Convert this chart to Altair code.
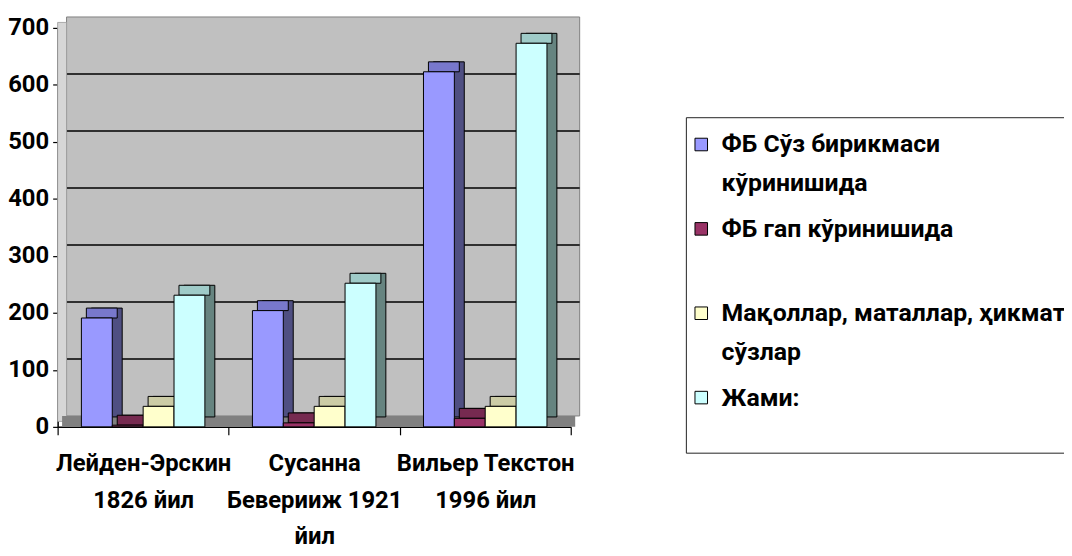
import altair as alt
import pandas as pd

categories = ["Лейден-Эрскин\n1826 йил", "Сусанна\nБеверииж 1921\nйил", "Вильер Текстон\n1996 йил"]
series = ["ФБ Сўз бирикмаси\nкўринишида", "ФБ гап кўринишида\n ",
          "Мақоллар, маталлар, ҳикматли\nсўзлар", "Жами:\n "]
s1 = [191, 204, 623]
s2 = [3, 7, 15]
s3 = [36, 36, 36]
s4 = [231, 252, 673]
y_ticks = [0, 100, 200, 300, 400, 500, 600, 700]
grid_values = [100, 200, 300, 400, 500, 600]

front_colors = ["#9999ff", "#993366", "#ffffcc", "#ccffff"]
side_colors = ["#4f4f82", "#5a1f3d", "#8a8a6e", "#668480"]
top_colors = ["#7878cc", "#762a50", "#cccca6", "#9fcbc8"]

FONT = "Roboto, 'Noto Sans', sans-serif"

rows = []
for vals, s in zip([s1, s2, s3, s4], series):
    for c, v in zip(categories, vals):
        rows.append({"cat": c, "series": s, "value": v})
df = pd.DataFrame(rows)

W, H = 517, 402
BAND = W / 3
DX, DY = 10, 10      # bar depth
WX, WY = 9, 11       # wall depth
PADO = 0.77

yscale = alt.Scale(domain=[0, 700], nice=False, zero=True)
yaxis = alt.Axis(title=None, values=y_ticks, grid=False, labelFont=FONT, labelFontSize=24,
                 labelFontWeight="bold", labelColor="black", labelPadding=4, tickSize=5,
                 tickColor="black", tickWidth=1.2, domainColor="black", domainWidth=1.5,
                 labelFlush=False, labelOverlap=False)
Y = alt.Y("value:Q", scale=yscale, axis=yaxis)

xaxis = alt.Axis(title=None, labelExpr="split(datum.label, '\\n')", labelAngle=0, labelFont=FONT,
                 labelFontSize=24, labelFontWeight="bold", labelColor="black", labelLineHeight=37,
                 labelPadding=17, tickBand="extent", tickSize=8, tickColor="black", tickWidth=1.2,
                 domainColor="black", domainWidth=1.5, labelLimit=400)
X = alt.X("cat:N", sort=categories, scale=alt.Scale(paddingInner=0, paddingOuter=0), axis=xaxis)


def xo(shift):
    if shift == 0:
        sc = alt.Scale(paddingInner=0, paddingOuter=PADO)
    else:
        sc = alt.Scale(domain=series, range=[shift, BAND + shift], paddingInner=0, paddingOuter=PADO)
    return alt.XOffset("series:N", sort=series, scale=sc)


wall_df = pd.DataFrame({"value": [700], "base": [0]})
grid_df = pd.DataFrame({"value": grid_values})
floor_df = pd.DataFrame({"value": [0]})

back_wall = alt.Chart(wall_df).mark_rect(
    color="#c0c0c0", stroke="#808080", strokeWidth=1,
    xOffset=WX, x2Offset=WX, yOffset=-WY, y2Offset=-WY
).encode(x=alt.value(0), x2=alt.value("width"), y=Y, y2=alt.Y2("base"))

grid = alt.Chart(grid_df).mark_rule(
    color="black", strokeWidth=1.4, xOffset=WX, x2Offset=WX, yOffset=-WY
).encode(x=alt.value(0), x2=alt.value("width"), y=Y)

left_wall = alt.Chart(wall_df).mark_rect(
    color="#d6d6d6", stroke="#9a9a9a", strokeWidth=0.8, yOffset=-WY / 2, y2Offset=-WY / 2
).encode(x=alt.value(0), x2=alt.value(WX), y=Y, y2=alt.Y2("base"))

floor = alt.Chart(floor_df).mark_rect(
    color="#808080", xOffset=WX / 2, x2Offset=WX / 2, yOffset=-WY, y2Offset=0
).encode(x=alt.value(0), x2=alt.value("width"), y=Y, y2=alt.Y2("value"))

side = alt.Chart(df).mark_bar(
    stroke="black", strokeWidth=1, yOffset=-DY, y2Offset=-DY
).encode(x=X, xOffset=xo(DX), y=Y,
         color=alt.Color("series:N", sort=series,
                         scale=alt.Scale(domain=series, range=side_colors), legend=None))

top = alt.Chart(df).mark_bar(
    stroke="black", strokeWidth=1, yOffset=-DY, y2Offset=0
).encode(x=X, xOffset=xo(DX / 2), y=Y, y2=alt.Y2("value"),
         color=alt.Color("series:N", sort=series,
                         scale=alt.Scale(domain=series, range=top_colors), legend=None))

legend = alt.Legend(title=" ", titleFontSize=10, titlePadding=2, orient="none",
                    legendX=633, legendY=90, direction="vertical",
                    labelExpr="split(datum.label, '\\n')", labelFont=FONT, labelFontSize=25,
                    labelFontWeight="bold", labelColor="black", labelLimit=800,
                    symbolType="square", symbolSize=160, symbolStrokeColor="black",
                    symbolStrokeWidth=1, symbolOffset=0, fillColor="white",
                    strokeColor="#222222", padding=3, rowPadding=20, labelOffset=8)

front = alt.Chart(df).mark_bar(stroke="black", strokeWidth=1).encode(
    x=X, xOffset=xo(0), y=Y,
    color=alt.Color("series:N", sort=series,
                    scale=alt.Scale(domain=series, range=front_colors), legend=legend))

chart = alt.layer(back_wall, grid, left_wall, floor, side, top, front).resolve_scale(
    color="independent", xOffset="independent"
).properties(
    width=W, height=H,
    autosize=alt.AutoSizeParams(type="none"),
    padding={"left": 50, "top": 18, "right": 1064 - 50 - W, "bottom": 540 - 18 - H},
    background="white",
).configure_view(stroke=None).configure(style={"guide-label": {"lineHeight": 39}})

chart.save("out.html", embed_options={"renderer": "svg", "actions": False})
